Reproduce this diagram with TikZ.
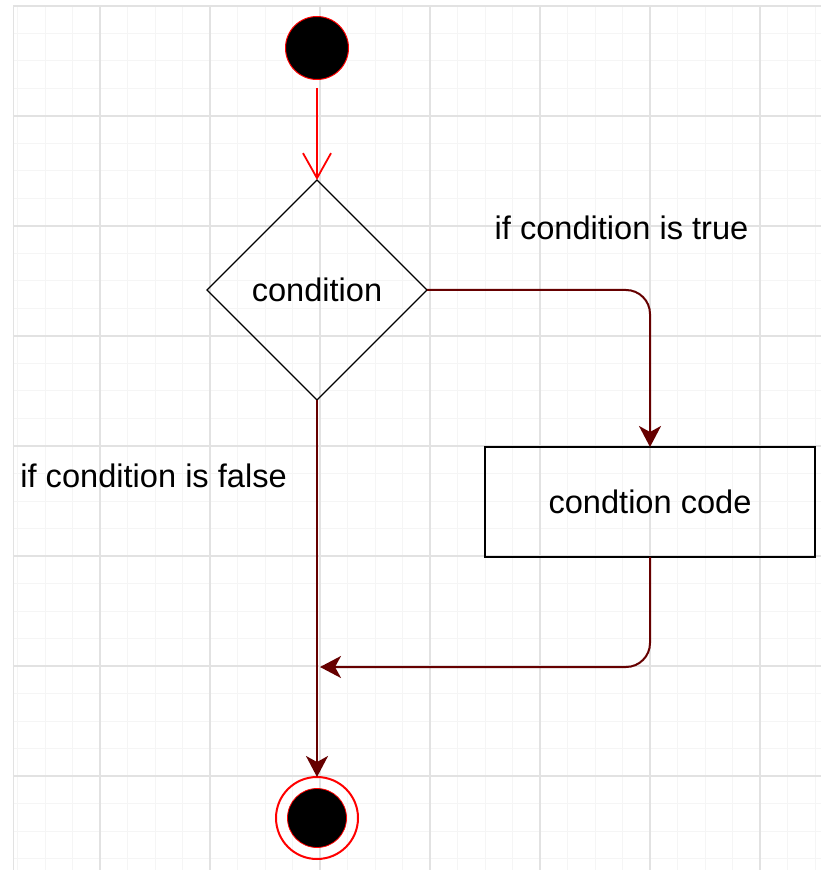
\documentclass[tikz,border=0pt]{standalone}
\usepackage{fontspec}
\setmainfont{Liberation Sans}
\usetikzlibrary{arrows.meta,shapes.geometric}
\definecolor{conn}{HTML}{660000}
\definecolor{gridmajor}{HTML}{E2E2E2}
\definecolor{gridminor}{HTML}{F5F5F5}
\begin{document}
\begin{tikzpicture}[x=0.5pt,y=-0.5pt,
  font=\fontsize{16.3pt}{19pt}\selectfont,
  minorline/.style={gridminor,line width=0.5pt},
  majorline/.style={gridmajor,line width=0.6pt},
  startnode/.style={circle,fill=black,draw=red,line width=0.5pt,minimum size=31.5pt,inner sep=0pt},
  endring/.style={circle,draw=red,line width=1pt,minimum size=41pt,inner sep=0pt,outer sep=0pt},
  endcore/.style={circle,fill=black,draw=red,line width=0.4pt,minimum size=29.5pt,inner sep=0pt},
  decision/.style={diamond,draw=black,line width=0.6pt,minimum width=110pt,minimum height=110pt,inner sep=0pt,outer sep=0pt},
  action/.style={rectangle,draw=black,line width=0.9pt,minimum width=165pt,minimum height=55pt,inner sep=0pt,outer sep=0pt},
  label/.style={inner sep=0pt,text=black},
  redflow/.style={draw=red,line width=0.9pt,-{Straight Barb[length=12.5pt,width=14pt]}},
  flow/.style={draw=conn,line width=1pt,rounded corners=12pt,-{Stealth[length=10.5pt,width=11pt,inset=3pt]}}
]
\useasboundingbox (0,0) rectangle (821,870);
\fill[white] (0,0) rectangle (821,870);
\begin{scope}
  \clip (13,6) rectangle (821,870);
  \foreach \i in {0,...,29} \draw[minorline] ({17.5+27.5*\i},6) -- ++(0,864);
  \foreach \i in {0,...,31} \draw[minorline] (13,{6+27.5*\i}) -- ++(808,0);
  \foreach \i in {0,...,6} \draw[majorline] ({100+110*\i},6) -- ++(0,864);
  \foreach \i in {0,...,7} \draw[majorline] (13,{6+110*\i}) -- ++(808,0);
  \draw[majorline] (13,6) -- (13,870);
\end{scope}

\node[startnode] (start) at (317,48) {};
\node[decision] (cond) at (317,290) {condition};
\node[action] (code) at (650,502) {condtion code};
\node[endring] (end) at (317,818) {};
\node[endcore] (endc) at (317,818) {};
\coordinate (merge) at (320,667);

\node[label,anchor=base] (lbltrue) at (621.5,240) {if condition is true};
\node[label,anchor=base west] (lblfalse) at (20,487) {if condition is false};

\draw[redflow,shorten <=4pt] (start) -- (cond.north);
\draw[flow] (cond.east) -| (code.north);
\draw[flow] (code.south) |- (merge);
\draw[flow] (cond.south) -- (end.north);
\end{tikzpicture}
\end{document}
